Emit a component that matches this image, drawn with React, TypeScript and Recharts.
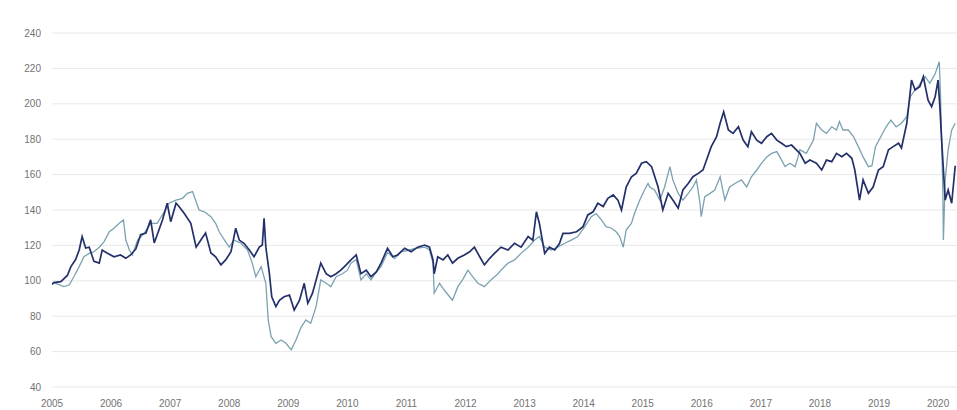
import { LineChart, Line, XAxis, YAxis, CartesianGrid } from 'recharts'

// dark series (navy)
const darkYears = [
  2005.0, 2005.03, 2005.15, 2005.26, 2005.32, 2005.4, 2005.46, 2005.51, 2005.57, 2005.63, 2005.71, 2005.8, 2005.85, 2005.93,
  2006.05, 2006.16, 2006.25, 2006.33, 2006.42, 2006.5, 2006.59, 2006.67, 2006.73, 2006.81, 2006.87, 2006.95,
  2007.01, 2007.1, 2007.15, 2007.24, 2007.35, 2007.44, 2007.52, 2007.6, 2007.69, 2007.77, 2007.86, 2007.94,
  2008.03, 2008.11, 2008.17, 2008.25, 2008.34, 2008.42, 2008.51, 2008.56, 2008.59, 2008.62, 2008.68, 2008.72, 2008.79, 2008.85, 2008.93,
  2009.02, 2009.1, 2009.19, 2009.27, 2009.33, 2009.41, 2009.5, 2009.55, 2009.64, 2009.72, 2009.81, 2009.89, 2009.98,
  2010.06, 2010.15, 2010.23, 2010.32, 2010.4, 2010.49, 2010.57, 2010.68, 2010.77, 2010.85, 2010.97,
  2011.08, 2011.19, 2011.31, 2011.39, 2011.45, 2011.47, 2011.53, 2011.62, 2011.7, 2011.78, 2011.87, 2011.98,
  2012.07, 2012.15, 2012.24, 2012.32, 2012.41, 2012.49, 2012.6, 2012.72, 2012.83, 2012.94,
  2013.06, 2013.14, 2013.2, 2013.25, 2013.34, 2013.42, 2013.51, 2013.59, 2013.65, 2013.76, 2013.88, 2013.99,
  2014.07, 2014.16, 2014.24, 2014.33, 2014.41, 2014.5, 2014.58, 2014.64, 2014.72, 2014.81, 2014.89, 2014.98,
  2015.06, 2015.15, 2015.26, 2015.34, 2015.43, 2015.51, 2015.6, 2015.68, 2015.77, 2015.85, 2015.94,
  2016.02, 2016.08, 2016.16, 2016.25, 2016.31, 2016.37, 2016.45, 2016.53, 2016.62, 2016.7, 2016.78, 2016.84, 2016.93,
  2017.01, 2017.1, 2017.18, 2017.27, 2017.35, 2017.43, 2017.52, 2017.6, 2017.66, 2017.75, 2017.83, 2017.94,
  2018.03, 2018.11, 2018.2, 2018.28, 2018.37, 2018.45, 2018.54, 2018.59, 2018.67, 2018.73, 2018.82, 2018.9, 2018.99,
  2019.07, 2019.16, 2019.24, 2019.33, 2019.38, 2019.47, 2019.55, 2019.61, 2019.69, 2019.75, 2019.83, 2019.89, 2019.95,
  2020.0, 2020.03, 2020.06, 2020.12, 2020.17, 2020.23, 2020.29,
]
const darkValues = [
  98, 99, 99.5, 103, 108, 112, 117.4, 125, 118.5, 119, 111, 110, 117.4, 115.7,
  113.6, 114.6, 112.7, 114.6, 118, 126, 127, 134.4, 121.4, 128.7, 134.4, 143.8,
  133.4, 143.8, 142, 138, 132.5, 119, 123, 127, 115.7, 113.6, 109, 111.8,
  116.4, 129.7, 123, 121.2, 117.4, 113.6, 119, 120.2, 135.3, 119, 104, 91, 85.4, 89, 91,
  92, 83.5, 89, 98.6, 87.3, 93, 104, 110, 104, 102.3, 104, 106, 109,
  111.8, 114.6, 104, 106, 102.3, 105, 110, 118.4, 113.6, 114.6, 118.4,
  116.4, 119, 120.2, 119, 111.8, 104, 113.6, 111.8, 114.6, 110, 112.7, 114.6,
  116.4, 119, 113.6, 109, 112.7, 115.5, 119, 117.4, 121.2, 119,
  125, 123, 139, 132.5, 115.5, 119, 117.4, 121, 126.8, 126.8, 127.7, 130.6,
  137.2, 139, 143.8, 142, 146.6, 148.5, 145.6, 140, 153, 158.8, 160.7, 166.4,
  167.3, 164.5, 153, 140, 149.4, 145.6, 141, 151.3, 155, 158.8, 160.7,
  162.6, 168.2, 175.8, 181.4, 189, 195.5, 185.2, 183.3, 187, 179.5, 175.8, 184.2, 179.5,
  177.7, 181.4, 183.3, 179.5, 177.7, 175.8, 176.7, 174, 172, 166.4, 168.2, 166.4,
  162.6, 168.2, 167.3, 172, 170.1, 172, 169.2, 162.6, 145.6, 157, 149.4, 153, 162.6,
  164.5, 174, 175.8, 177.7, 175, 189, 213.4, 207.8, 209.7, 215.3, 202, 198.4, 204,
  213.4, 198.4, 179.5, 145.6, 151.3, 143.8, 165,
]

// light series (teal)
const lightYears = [
  2005.0, 2005.03, 2005.2, 2005.29, 2005.37, 2005.46, 2005.54, 2005.63, 2005.71, 2005.8, 2005.88, 2005.97,
  2006.05, 2006.14, 2006.21, 2006.25, 2006.31, 2006.36, 2006.45, 2006.56, 2006.67, 2006.78, 2006.9, 2006.98,
  2007.1, 2007.21, 2007.29, 2007.38, 2007.41, 2007.49, 2007.58, 2007.69, 2007.77, 2007.83, 2007.92,
  2008.0, 2008.08, 2008.2, 2008.31, 2008.39, 2008.45, 2008.54, 2008.62, 2008.66, 2008.71, 2008.79, 2008.88, 2008.96,
  2009.05, 2009.13, 2009.22, 2009.3, 2009.38, 2009.47, 2009.55, 2009.64, 2009.72, 2009.81, 2009.92,
  2010.0, 2010.06, 2010.15, 2010.23, 2010.32, 2010.4, 2010.49, 2010.57, 2010.68, 2010.8, 2010.91,
  2011.05, 2011.17, 2011.31, 2011.39, 2011.45, 2011.47, 2011.56, 2011.64, 2011.73, 2011.78, 2011.87, 2011.95,
  2012.04, 2012.12, 2012.21, 2012.32, 2012.43, 2012.55, 2012.6, 2012.72, 2012.83, 2012.94,
  2013.06, 2013.17, 2013.25, 2013.34, 2013.45, 2013.56, 2013.68, 2013.79, 2013.9,
  2014.02, 2014.13, 2014.21, 2014.3, 2014.38, 2014.47, 2014.55, 2014.61, 2014.67, 2014.72, 2014.81, 2014.86, 2014.95,
  2015.03, 2015.09, 2015.12, 2015.2, 2015.29, 2015.37, 2015.46, 2015.51, 2015.6, 2015.68, 2015.77, 2015.85, 2015.91, 2015.97, 2015.99,
  2016.05, 2016.14, 2016.22, 2016.31, 2016.39, 2016.47, 2016.56, 2016.67, 2016.76, 2016.84, 2016.93,
  2017.01, 2017.1, 2017.18, 2017.27, 2017.32, 2017.41, 2017.49, 2017.58, 2017.63, 2017.66, 2017.77, 2017.89, 2017.94,
  2018.03, 2018.11, 2018.2, 2018.28, 2018.33, 2018.39, 2018.48, 2018.57, 2018.65, 2018.73, 2018.82, 2018.88, 2018.94,
  2019.03, 2019.12, 2019.2, 2019.29, 2019.38, 2019.47, 2019.53, 2019.61, 2019.69, 2019.78, 2019.86, 2019.95,
  2020.02, 2020.04, 2020.08, 2020.09, 2020.12, 2020.17, 2020.23, 2020.29,
]
const lightValues = [
  98, 99, 96.7, 97.6, 102.3, 108, 113.6, 115.5, 116.4, 119, 122, 127.7,
  129.7, 132.5, 134.4, 123, 117.4, 114.6, 123, 126.8, 132.5, 132.5, 139, 143.8,
  145.6, 146.6, 149.4, 150.4, 147.5, 140, 139, 136.2, 132.5, 127.7, 123,
  119, 123, 121.2, 117.4, 110, 102.3, 108, 98.6, 77.9, 68.4, 64.7, 66.6, 64.7,
  61, 66.6, 74, 77.9, 76, 85.4, 100.5, 98.6, 96.7, 102.3, 104,
  106, 110, 112, 100.5, 104, 100.5, 105, 108, 116, 112.5, 116.4,
  117.4, 118.4, 119, 117.4, 110, 93, 98.6, 94.8, 91, 89, 96.7, 100.5,
  106, 102.3, 98.6, 96.7, 100.5, 104, 106, 110, 111.8, 115.5,
  119, 123, 125, 119, 117.4, 119, 121.2, 123, 125,
  130.6, 136.2, 138, 134.4, 130.6, 129.7, 127.7, 125, 119, 128.7, 132.5, 138, 145.6,
  151.3, 155, 153, 151.3, 145.6, 153, 164.5, 157, 149.4, 145.6, 149.4, 153, 157, 143.8, 136.2,
  147.5, 149.4, 151.3, 158.8, 145.6, 153, 155, 157, 153, 158.8, 162.6,
  166.4, 170, 172, 173, 170, 164.5, 166.4, 164.5, 170, 174, 172, 179.5, 189,
  185.2, 183.3, 187, 185.2, 190, 185.2, 185.2, 181.4, 175.8, 170, 164.5, 165, 175.8,
  181.4, 187, 190.8, 187, 189, 192.7, 204, 207.8, 211, 215.3, 211.6, 217,
  223.8, 206, 151.3, 123, 157, 174, 185.2, 189,
]

const yearTicks = [2005, 2006, 2007, 2008, 2009, 2010, 2011, 2012, 2013, 2014, 2015, 2016, 2017, 2018, 2019, 2020]
const valueTicks = [40, 60, 80, 100, 120, 140, 160, 180, 200, 220, 240]

const darkData = darkYears.map((year, i) => ({ year, value: darkValues[i] }))
const lightData = lightYears.map((year, i) => ({ year, value: lightValues[i] }))

const tickStyle = { fontSize: 10, fill: '#737373', fontFamily: 'Liberation Sans, Arial, sans-serif' }

export default function App() {
  return (
    <div style={{ position: 'absolute', left: 0, top: 0, width: 957, height: 410, background: '#fff' }}>
      <LineChart width={957} height={410} margin={{ top: 33, right: 0, bottom: 0, left: 0 }}>
        <CartesianGrid vertical={false} stroke="#e8e8e8" />
        <XAxis
          type="number"
          dataKey="year"
          domain={[2005, 2020.32]}
          ticks={yearTicks}
          allowDataOverflow
          axisLine={false}
          tickLine={false}
          tickMargin={7}
          height={23}
          tick={tickStyle}
        />
        <YAxis
          type="number"
          domain={[40, 240]}
          ticks={valueTicks}
          axisLine={false}
          tickLine={false}
          tickMargin={5}
          width={52}
          tick={tickStyle}
        />
        <Line
          data={lightData}
          dataKey="value"
          type="linear"
          stroke="#7aa2b1"
          strokeWidth={1.3}
          dot={false}
          isAnimationActive={false}
        />
        <Line
          data={darkData}
          dataKey="value"
          type="linear"
          stroke="#23306a"
          strokeWidth={1.7}
          dot={false}
          isAnimationActive={false}
        />
      </LineChart>
    </div>
  )
}
